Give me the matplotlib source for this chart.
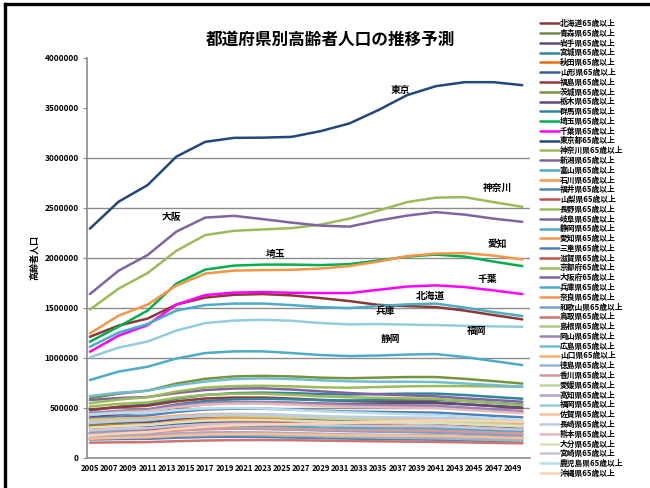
import matplotlib
matplotlib.use("Agg")
import matplotlib.pyplot as plt
from matplotlib.lines import Line2D
from matplotlib import ticker

plt.rcParams["font.family"] = ["Noto Sans CJK JP", "DejaVu Sans"]

# ---- data (elderly population, thousands of people) ----
YEARS = [2005, 2008, 2011, 2014, 2017, 2020, 2023, 2026, 2029, 2032, 2035, 2038, 2041, 2044, 2047, 2050]
TICK_YEARS = list(range(2005, 2050, 2))

PREFS = ["北海道", "青森県", "岩手県", "宮城県", "秋田県", "山形県", "福島県", "茨城県", "栃木県", "群馬県",
         "埼玉県", "千葉県", "東京都", "神奈川県", "新潟県", "富山県", "石川県", "福井県", "山梨県", "長野県",
         "岐阜県", "静岡県", "愛知県", "三重県", "滋賀県", "京都府", "大阪府", "兵庫県", "奈良県", "和歌山県",
         "鳥取県", "島根県", "岡山県", "広島県", "山口県", "徳島県", "香川県", "愛媛県", "高知県", "福岡県",
         "佐賀県", "長崎県", "熊本県", "大分県", "宮崎県", "鹿児島県", "沖縄県"]

hokkaido = [1208, 1320, 1390, 1530, 1600, 1628, 1635, 1622, 1595, 1565, 1527, 1515, 1505, 1470, 1425, 1382]
aomori = [330, 347, 356, 386, 406, 413, 413, 406, 396, 389, 386, 383, 380, 366, 353, 340]
iwate = [345, 355, 359, 380, 393, 397, 393, 383, 373, 362, 355, 348, 342, 328, 314, 300]
miyagi = [470, 508, 531, 588, 625, 644, 649, 644, 635, 630, 635, 639, 639, 625, 606, 588]
akita = [315, 324, 328, 347, 359, 362, 359, 350, 340, 331, 324, 318, 312, 299, 287, 274]
yamagata = [305, 314, 317, 336, 348, 351, 348, 339, 329, 320, 314, 308, 302, 290, 278, 265]
fukushima = [480, 504, 518, 562, 590, 600, 600, 590, 576, 566, 562, 557, 552, 533, 514, 494]
ibaraki = [592, 639, 669, 740, 787, 811, 817, 811, 799, 793, 799, 805, 805, 787, 764, 740]
tochigi = [400, 432, 452, 500, 532, 548, 552, 548, 540, 536, 540, 544, 544, 532, 516, 500]
gunma = [425, 459, 480, 531, 565, 582, 587, 582, 574, 570, 574, 578, 578, 565, 548, 531]
saitama = [1158, 1310, 1470, 1740, 1880, 1920, 1930, 1930, 1925, 1935, 1970, 2010, 2030, 2010, 1960, 1915]
chiba = [1058, 1220, 1325, 1530, 1625, 1650, 1655, 1648, 1645, 1645, 1678, 1710, 1722, 1705, 1672, 1635]
tokyo = [2290, 2560, 2725, 3010, 3158, 3198, 3200, 3208, 3265, 3342, 3475, 3625, 3715, 3755, 3755, 3725]
kanagawa = [1480, 1690, 1845, 2068, 2225, 2268, 2282, 2295, 2330, 2390, 2470, 2555, 2600, 2605, 2555, 2508]
niigata = [575, 595, 605, 645, 675, 690, 692, 680, 662, 645, 632, 622, 612, 592, 575, 558]
toyama = [250, 263, 270, 293, 308, 313, 313, 308, 300, 295, 293, 290, 288, 278, 268, 258]
ishikawa = [230, 242, 248, 269, 283, 288, 288, 283, 276, 271, 269, 267, 265, 255, 246, 237]
fukui = [180, 185, 187, 198, 205, 207, 205, 200, 194, 189, 185, 182, 178, 171, 164, 157]
yamanashi = [190, 200, 205, 222, 234, 238, 238, 234, 228, 224, 222, 220, 219, 211, 203, 196]
nagano = [510, 536, 551, 597, 627, 638, 638, 627, 612, 602, 597, 592, 587, 566, 546, 525]
gifu = [440, 462, 475, 515, 541, 550, 550, 541, 528, 519, 515, 510, 506, 488, 471, 453]
shizuoka = [775, 860, 908, 990, 1045, 1062, 1062, 1045, 1025, 1015, 1020, 1030, 1035, 1005, 965, 925]
aichi = [1242, 1420, 1530, 1720, 1840, 1870, 1875, 1878, 1890, 1915, 1960, 2015, 2040, 2045, 2020, 1982]
mie = [390, 410, 421, 456, 480, 488, 488, 480, 468, 460, 456, 452, 449, 433, 417, 402]
shiga = [240, 262, 276, 310, 334, 346, 352, 354, 354, 356, 364, 372, 376, 372, 364, 356]
kyoto = [542, 580, 603, 660, 700, 715, 718, 712, 702, 698, 705, 712, 715, 714, 711, 708]
osaka = [1635, 1870, 2025, 2260, 2400, 2418, 2385, 2350, 2320, 2310, 2370, 2420, 2455, 2430, 2390, 2358]
hyogo = [1108, 1250, 1335, 1470, 1525, 1540, 1540, 1525, 1505, 1495, 1515, 1532, 1540, 1500, 1455, 1415]
nara = [290, 313, 328, 363, 386, 397, 400, 397, 392, 389, 392, 394, 394, 386, 374, 363]
wakayama = [250, 258, 260, 275, 285, 288, 285, 278, 270, 263, 258, 253, 248, 238, 228, 218]
tottori = [148, 152, 154, 163, 170, 174, 175, 173, 169, 165, 162, 159, 156, 151, 146, 142]
shimane = [202, 207, 209, 219, 226, 228, 225, 219, 212, 206, 201, 197, 193, 185, 177, 170]
okayama = [445, 466, 480, 520, 545, 555, 556, 548, 536, 528, 525, 522, 518, 500, 482, 464]
hiroshima = [615, 648, 668, 722, 760, 785, 792, 785, 772, 762, 758, 758, 755, 740, 725, 708]
yamaguchi = [380, 391, 395, 418, 433, 437, 433, 422, 410, 399, 391, 384, 376, 361, 346, 331]
tokushima = [198, 203, 206, 217, 225, 228, 226, 221, 215, 209, 205, 201, 197, 189, 181, 173]
kagawa = [232, 244, 251, 272, 286, 291, 291, 286, 279, 274, 272, 270, 267, 258, 248, 239]
ehime = [365, 376, 380, 402, 416, 420, 416, 405, 394, 383, 376, 369, 361, 347, 332, 318]
kochi = [220, 227, 229, 242, 251, 253, 251, 244, 238, 231, 227, 222, 218, 209, 200, 191]
fukuoka = [1002, 1100, 1160, 1270, 1345, 1370, 1378, 1368, 1345, 1332, 1335, 1330, 1325, 1318, 1312, 1308]
saga = [188, 197, 203, 220, 231, 235, 236, 232, 226, 222, 220, 218, 216, 209, 201, 194]
nagasaki = [345, 362, 373, 404, 424, 431, 431, 424, 414, 407, 404, 400, 397, 383, 369, 355]
kumamoto = [430, 452, 464, 503, 529, 538, 538, 529, 516, 507, 503, 499, 495, 477, 460, 443]
oita = [300, 315, 324, 351, 369, 375, 375, 369, 360, 354, 351, 348, 345, 333, 321, 309]
miyazaki = [270, 284, 292, 316, 332, 338, 338, 332, 324, 319, 316, 313, 311, 300, 289, 278]
kagoshima = [430, 443, 447, 473, 490, 495, 490, 477, 464, 452, 443, 434, 426, 409, 391, 374]
okinawa = [220, 240, 254, 285, 308, 322, 330, 336, 340, 346, 356, 366, 372, 370, 364, 356]

SERIES = [hokkaido, aomori, iwate, miyagi, akita, yamagata, fukushima, ibaraki, tochigi, gunma,
          saitama, chiba, tokyo, kanagawa, niigata, toyama, ishikawa, fukui, yamanashi, nagano,
          gifu, shizuoka, aichi, mie, shiga, kyoto, osaka, hyogo, nara, wakayama,
          tottori, shimane, okayama, hiroshima, yamaguchi, tokushima, kagawa, ehime, kochi, fukuoka,
          saga, nagasaki, kumamoto, oita, miyazaki, kagoshima, okinawa]

# labels written beside the large prefectures: (text, year, value in thousands)
CALLOUTS = [("東京", 2037.3, 3675), ("神奈川", 2047.4, 2695), ("大阪", 2013.5, 2405),
            ("埼玉", 2024.3, 2035), ("愛知", 2047.4, 2135), ("千葉", 2046.4, 1785),
            ("北海道", 2040.4, 1615), ("兵庫", 2035.7, 1465), ("福岡", 2045.2, 1265),
            ("静岡", 2036.3, 1185)]

COLORS = ["#8C3836", "#71893F", "#5F497A", "#31859C", "#E46C0A", "#376092", "#953735", "#77933C",
          "#604A7B", "#31859C", "#00B050", "#FF00FF", "#1F497D", "#9BBB59", "#8064A2", "#4BACC6",
          "#F79646", "#4F81BD", "#C0504D", "#9BBB59", "#8064A2", "#4BACC6", "#F79646", "#4F81BD",
          "#C0504D", "#9BBB59", "#8064A2", "#4BACC6", "#F79646", "#7BA0CD", "#CD7371", "#AFC97A",
          "#9983B5", "#6FBDD1", "#F9AB6B", "#95B3D7", "#D99694", "#C3D69B", "#B3A2C7", "#93CDDD",
          "#FAC090", "#B9CDE5", "#E6B9B8", "#D7E4BD", "#CCC1DA", "#B7DDE8", "#FCD5B5"]

W, H = 650, 488
fig = plt.figure(figsize=(W / 100, H / 100), dpi=100)
ax = fig.add_axes([87 / W, 1 - 457.5 / H, (530 - 87) / W, (457.5 - 57.7) / H])

handles = []
for name, vals, col in zip(PREFS, SERIES, COLORS):
    (ln,) = ax.plot(YEARS, [v * 1000 for v in vals], color=col, lw=1.8,
                    solid_joinstyle="round", solid_capstyle="round", zorder=3)
    handles.append(ln)

for text, yr, val in CALLOUTS:
    ax.text(yr, val * 1000, text, fontsize=7, fontweight="bold", ha="center", va="center", zorder=5)

grid_color = "#8C8C8C"
for gv in range(500000, 3000001, 500000):
    ax.axhline(gv, color=grid_color, lw=1.0, zorder=1)

ax.set_xlim(2004.7, 2050.8)
ax.set_ylim(0, 4000000)
ax.set_yticks(range(0, 4000001, 500000))
ax.yaxis.set_major_formatter(ticker.StrMethodFormatter("{x:.0f}"))
ax.set_xticks(TICK_YEARS)
ax.set_xticklabels([str(y) for y in TICK_YEARS])
for s in ("top", "right"):
    ax.spines[s].set_visible(False)
for s in ("left", "bottom"):
    ax.spines[s].set_color(grid_color)
    ax.spines[s].set_linewidth(1.2)
ax.tick_params(axis="y", labelsize=6, length=3, color=grid_color, pad=3)
ax.tick_params(axis="x", labelsize=5.6, length=0, pad=5)
for lab in ax.get_yticklabels() + ax.get_xticklabels():
    lab.set_fontweight("bold")
ax.set_ylabel("高齢者人口", fontsize=6.5, fontweight="bold", labelpad=4)

fig.text(330 / W, 1 - 40 / H, "都道府県別高齢者人口の推移予測", fontsize=12, fontweight="bold",
         ha="center", va="center")

fig.legend(handles, [p + "65歳以上" for p in PREFS], loc="upper left",
           bbox_to_anchor=(540 / W, 1 - 19 / H), frameon=False,
           prop={"size": 5.6, "weight": "bold"}, handlelength=2.4, handletextpad=0.15,
           labelspacing=0.1, borderaxespad=0, borderpad=0)

# outer frame along the top and left edges
fig.add_artist(Line2D([5 / W, 5 / W], [0, 1 - 4 / H], transform=fig.transFigure, color="black", lw=2.4))
fig.add_artist(Line2D([5 / W, 1], [1 - 4 / H, 1 - 4 / H], transform=fig.transFigure, color="black", lw=2.4))

fig.savefig("out.png", dpi=100)
